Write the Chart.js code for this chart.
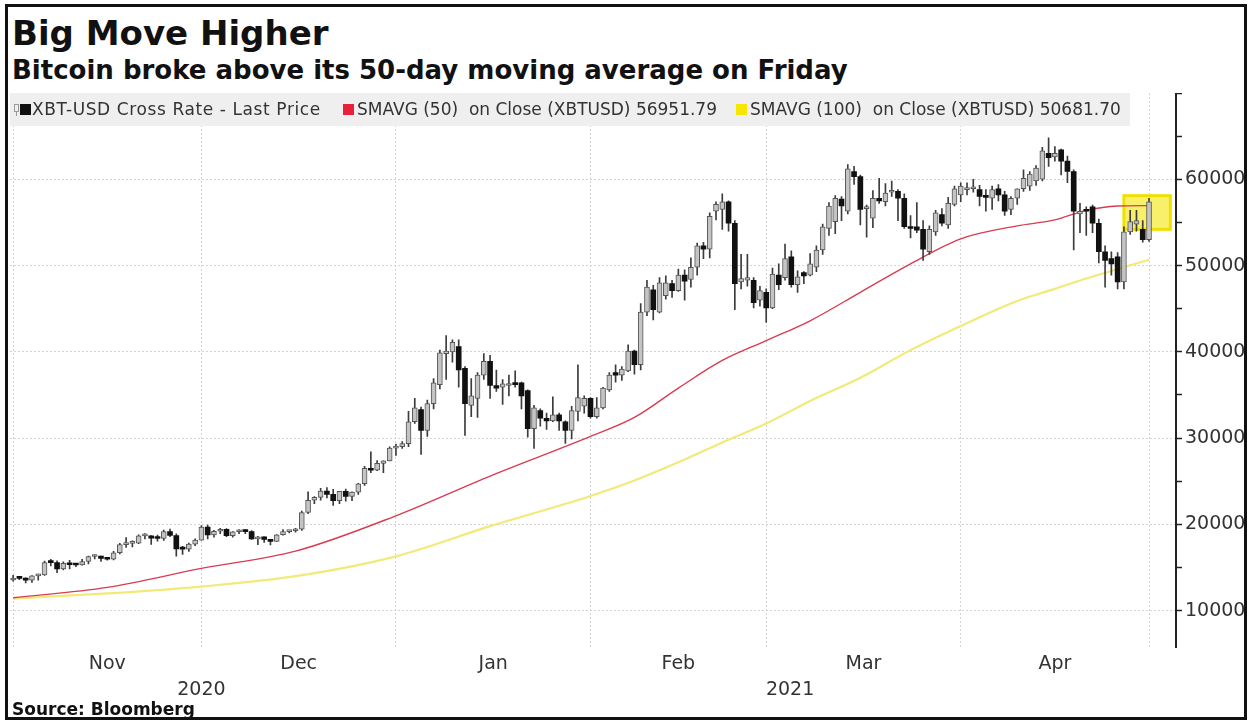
<!DOCTYPE html>
<html>
<head>
<meta charset="utf-8">
<title>Big Move Higher</title>
<script src="https://cdn.jsdelivr.net/npm/chart.js"></script>
<style>
  body {
    margin: 0;
    width: 1250px;
    height: 723px;
    position: relative;
    overflow: hidden;
    background: #fff;
    font-family: "DejaVu Sans", sans-serif;
    color: #111;
  }
  #frame {
    position: absolute;
    left: 5px;
    top: 4px;
    width: 1242px;
    height: 716px;
    box-sizing: border-box;
    border: 3px solid #111;
    z-index: 3;
  }
  h1, h2 {
    position: absolute;
    left: 12px;
    margin: 0;
    font-weight: bold;
    line-height: 1;
    white-space: nowrap;
  }
  h1 { top: 16px; font-size: 34px; }
  h2 { top: 57px; font-size: 26px; }
  #legend {
    position: absolute;
    left: 10px;
    top: 93px;
    width: 1120px;
    height: 33px;
    background: #efefef;
    font-size: 17px;
    color: #333;
    white-space: pre;
    z-index: 2;
  }
  #legend span {
    position: absolute;
    top: 7px;
    line-height: 19px;
  }
  #legend .sq {
    top: 11px;
    width: 11px;
    height: 11px;
  }
  #legend .candle {
    top: 11px;
    width: 3px;
    height: 6px;
    border: 1px solid #999;
  }
  #legend .candle::after {
    content: "";
    position: absolute;
    left: 1px;
    top: 7px;
    width: 1px;
    height: 4px;
    background: #999;
  }
  #wrap {
    position: absolute;
    left: 10px;
    top: 93px;
    width: 1236px;
    height: 620px;
  }
  #source {
    position: absolute;
    left: 12px;
    top: 701px;
    font-size: 17px;
    font-weight: bold;
    line-height: 1;
    z-index: 2;
  }
</style>
</head>
<body>
<div id="frame"></div>
<h1>Big Move Higher</h1>
<h2>Bitcoin broke above its 50-day moving average on Friday</h2>
<div id="legend">
  <span class="candle" style="left:4px"></span>
  <span class="sq" style="left:10px;background:#111"></span>
  <span style="left:22px;letter-spacing:0.6px">XBT-USD Cross Rate - Last Price</span>
  <span class="sq" style="left:333px;background:#e8203c"></span>
  <span id="lg50" style="left:347px"></span>
  <span class="sq" style="left:726px;background:#f6e600"></span>
  <span id="lg100" style="left:740px"></span>
</div>
<div id="wrap"><canvas id="chart"></canvas></div>
<div id="source">Source: Bloomberg</div>

<script>
  // Daily XBT-USD candles, day 0 = 31 Oct 2020 ... day 181 = 30 Apr 2021
  const opens = [
    13560,
    13780, 13740, 13550, 14030, 14150, 15590, 15580, 14830, 15480, 15330,
    15300, 15700, 16280, 16320, 16070, 15960, 16720, 17650, 17800, 17820,
    18680, 18690, 18420, 18370, 19160, 18720, 17150, 17140, 17720, 18180,
    19700, 18790, 19210, 19440, 18690, 19150, 19360, 19170, 18320, 18550,
    18250, 18040, 18800, 19170, 19270, 19440, 21380, 22800, 23130, 23870,
    23480, 22750, 23830, 23240, 23740, 24710, 26490, 26280, 27080, 27360, 28840,
    29000, 29370, 31900, 33300, 30900, 34000, 36200, 39800, 40000, 40600,
    38100, 33800, 34600, 37300, 38900, 36100, 35900, 36100, 36300, 36400,
    35500, 31100, 33200, 32300, 32000, 32700, 31900, 30900, 33100, 33700, 34600,
    32500, 33500, 35600, 37600, 37300, 37800, 40100, 38500, 44600, 47200,
    44600, 46500, 47900, 47100, 48900, 48400, 49800, 52300, 51900, 56300,
    56500, 57400, 54900, 48100, 48300, 48300, 46000, 46900,
    45100, 48900, 48600, 51000, 47800, 49200, 48900, 49800, 51800, 54300,
    55100, 57700, 56300, 60900, 60300, 56600, 55500, 57800, 57400, 58500,
    58600, 57800, 54500, 54500, 54200, 51600, 53900, 55900, 54700, 57100, 58200,
    58800, 58900, 58800, 58000, 57800, 58900, 58200, 56500, 57800, 58900,
    59200, 59800, 60000, 63000, 62600, 63400, 62100, 60900, 56000, 56500,
    56800, 54900, 51600, 50800, 51000, 48100, 53900, 54800, 54200, 53000
  ];
  const highs = [
    14100,
    13900, 13820, 14070, 14250, 15750, 15960, 15770, 15650, 15840, 15460,
    15950, 16330, 16480, 16320, 16140, 16870, 17820, 18470, 18100, 18800,
    18940, 18700, 18750, 19350, 19460, 18920, 17450, 17850, 18330, 19860,
    19920, 19310, 19560, 19530, 19170, 19410, 19400, 19280, 18620, 18560,
    18270, 18830, 19390, 19320, 19550, 21560, 23770, 23240, 24170, 24260,
    24060, 23840, 24100, 23790, 24770, 26720, 28400, 27390, 27370, 28990, 29300,
    29600, 33100, 34600, 33600, 34400, 36900, 40200, 41900, 41400, 41400,
    38300, 36900, 37600, 39800, 39600, 37900, 36800, 37300, 37800, 36500,
    35600, 33800, 33400, 32900, 34800, 32900, 32000, 33700, 38500, 34900, 34700,
    34700, 35900, 37600, 38500, 38300, 40800, 40200, 45600, 48300, 47700,
    48600, 48800, 48300, 49600, 49500, 50900, 52600, 52700, 56100, 57400,
    58300, 57500, 55200, 51300, 51300, 48600, 47600, 47300,
    49700, 50200, 52500, 51700, 49400, 49300, 51400, 52300, 54800, 57300,
    58100, 58000, 61700, 61500, 60500, 57000, 58700, 60100, 59500, 59800,
    58800, 58300, 55800, 57300, 55200, 54600, 56400, 56600, 57900, 59200, 59600,
    59600, 60000, 59300, 58800, 59200, 59400, 58600, 58000, 58900, 61100,
    60900, 61600, 63700, 64800, 63800, 63500, 62700, 61100, 57200, 56800,
    57000, 55400, 52300, 51600, 51500, 54500, 56400, 56400, 55200, 57800
  ];
  const lows = [
    13430,
    13600, 13220, 13290, 13530, 14090, 15190, 14420, 14720, 14850, 15090,
    15280, 15430, 15990, 15710, 15860, 15880, 16570, 17330, 17380, 17760,
    18330, 17680, 18060, 18140, 18570, 16330, 16510, 16880, 17540, 18180,
    18330, 18520, 18930, 18590, 18510, 18920, 18940, 18270, 17650, 17910,
    17610, 18030, 18750, 19000, 19090, 19300, 21240, 22390, 22800, 23080,
    22190, 22400, 22700, 22740, 23470, 24520, 25990, 26230, 25990, 27350, 28000,
    28800, 29000, 31700, 28100, 30200, 33400, 35700, 36800, 38800, 35900,
    30300, 32500, 32400, 36800, 34600, 35400, 33900, 34900, 35900, 33400,
    30100, 28800, 31400, 31000, 31900, 30900, 29400, 29900, 32000, 32900, 32300,
    32300, 33400, 35400, 36500, 36700, 37700, 37400, 37900, 44200, 43700,
    44500, 46100, 46300, 47000, 46000, 47500, 48900, 50800, 50900, 55300,
    54200, 54000, 44900, 47300, 47600, 45100, 45300, 43400,
    45000, 47200, 48300, 47500, 46900, 47900, 48800, 49300, 51300, 53500,
    53700, 55200, 56000, 59400, 54700, 53300, 54400, 57200, 56900, 58000,
    55200, 54300, 53200, 53800, 50600, 51300, 53500, 54600, 54300, 56900, 57400,
    58200, 58500, 56900, 56300, 56500, 57500, 55800, 55900, 57100, 58600,
    58700, 59300, 59800, 61500, 62100, 60500, 59600, 51800, 53800, 53500,
    53800, 50300, 47500, 48900, 47300, 47300, 53600, 54000, 52700, 52800
  ];
  const closes = [
    13780,
    13740, 13550, 14030, 14150, 15590, 15580, 14830, 15480, 15330, 15300,
    15700, 16280, 16320, 16070, 15960, 16720, 17650, 17800, 17820, 18680,
    18690, 18420, 18370, 19160, 18720, 17150, 17140, 17720, 18180, 19700,
    18790, 19210, 19440, 18690, 19150, 19360, 19170, 18320, 18550, 18250,
    18040, 18800, 19170, 19270, 19440, 21380, 22800, 23130, 23870, 23480,
    22750, 23830, 23240, 23740, 24710, 26490, 26280, 27080, 27360, 28840, 29000,
    29370, 31900, 33500, 30900, 34000, 36400, 39900, 40100, 41100, 37900,
    34000, 34900, 37300, 38900, 36100, 35800, 36300, 36300, 36200, 34900,
    31100, 33500, 32300, 32000, 32700, 32000, 30900, 33200, 34700, 34600, 32500,
    33500, 35800, 37300, 37300, 38000, 40100, 38500, 44600, 47500, 44900,
    48000, 48000, 47100, 48900, 48200, 49800, 52300, 51900, 55700, 57100,
    57400, 54900, 47900, 48500, 48600, 45700, 47100, 45100,
    49000, 47800, 50800, 47800, 48700, 48800, 50200, 51800, 54500, 56900,
    57800, 56900, 61200, 60300, 56500, 56800, 57800, 57500, 58400, 58600,
    57800, 54500, 54300, 54100, 51900, 54200, 56100, 54900, 57200, 58900, 59200,
    58900, 59000, 58000, 57900, 58800, 58200, 56300, 57800, 58900, 60100,
    60600, 61300, 63300, 62500, 63000, 62100, 60900, 56300, 56300, 56300,
    54900, 51600, 50600, 50200, 48100, 53900, 55100, 55200, 53000, 57400
  ];

  // Moving averages, sampled along the same day index
  const smaDays = [0, 15, 30, 45, 61, 76, 92, 99, 106, 113, 120, 127, 135, 143, 151, 160, 166, 171, 176, 181];
  const sma50 = [11500, 12700, 14900, 16900, 21000, 25600, 30200, 32400, 35800, 39000,
                 41300, 43600, 46900, 50200, 53100, 54600, 55300, 56400, 56900, 56951.79];
  const sma100 = [11400, 12000, 12800, 14000, 16300, 19800, 23300, 25100, 27200, 29500,
                  31700, 34300, 37000, 40200, 43000, 45900, 47300, 48500, 49600, 50681.70];

  // Axis ticks
  const monthEdges = [0, 30, 61, 92, 120, 151, 181];
  const monthCenters = [15, 45.5, 76.5, 106, 135.5, 166];
  const monthNames = ['Nov', 'Dec', 'Jan', 'Feb', 'Mar', 'Apr'];
  const yearCenters = [30, 123.8];
  const yearNames = ['2020', '2021'];
  const priceTicks = [10000, 15000, 20000, 25000, 30000, 35000, 40000, 45000, 50000, 55000, 60000, 65000, 70000];

  // Highlighted last week (day range, price range)
  const highlightDays = [177, 184.4];
  const highlightPrices = [54200, 58100];

  const dayMin = -0.5, dayMax = 185.3;

  document.getElementById('lg50').textContent =
    'SMAVG (50)  on Close (XBTUSD) ' + sma50[sma50.length - 1].toFixed(2);
  document.getElementById('lg100').textContent =
    'SMAVG (100)  on Close (XBTUSD) ' + sma100[sma100.length - 1].toFixed(2);

  const days = opens.map((_, i) => i);
  const wickData = days.map(i => ({ x: i, y: [lows[i], highs[i]] }));
  const upData = days.filter(i => closes[i] >= opens[i]).map(i => ({ x: i, y: [opens[i], closes[i]] }));
  const downData = days.filter(i => closes[i] < opens[i]).map(i => ({ x: i, y: [closes[i], opens[i]] }));

  const highlightPlugin = {
    id: 'highlight',
    beforeDatasetsDraw(chart) {
      const { ctx, scales } = chart;
      const x0 = scales.x.getPixelForValue(highlightDays[0]);
      const x1 = scales.x.getPixelForValue(highlightDays[1]);
      const y0 = scales.y.getPixelForValue(highlightPrices[1]);
      const y1 = scales.y.getPixelForValue(highlightPrices[0]);
      ctx.save();
      ctx.fillStyle = 'rgba(247, 237, 80, 0.85)';
      ctx.fillRect(x0, y0, x1 - x0, y1 - y0);
      ctx.strokeStyle = '#efe000';
      ctx.lineWidth = 3;
      ctx.strokeRect(x0, y0, x1 - x0, y1 - y0);
      ctx.restore();
    }
  };

  Chart.defaults.font.family = '"DejaVu Sans", sans-serif';
  Chart.defaults.color = '#333';

  const labelAxis = (centers, names, weight, pad, lh) => ({
    type: 'linear',
    position: 'bottom',
    min: dayMin,
    max: dayMax,
    weight: weight,
    offset: false,
    grid: { display: false, drawTicks: false },
    border: { display: false },
    afterBuildTicks: axis => { axis.ticks = centers.map(v => ({ value: v })); },
    ticks: {
      padding: pad,
      autoSkip: false,
      maxRotation: 0,
      font: { size: 19, lineHeight: lh },
      color: '#333',
      callback: (v, i) => names[i]
    }
  });

  new Chart(document.getElementById('chart'), {
    type: 'bar',
    data: {
      datasets: [
        {
          type: 'line', label: 'SMAVG (50)', data: smaDays.map((d, i) => ({ x: d, y: sma50[i] })),
          borderColor: '#d83c52', borderWidth: 1.4, pointRadius: 0,
          cubicInterpolationMode: 'monotone', order: 5
        },
        {
          type: 'line', label: 'SMAVG (100)', data: smaDays.map((d, i) => ({ x: d, y: sma100[i] })),
          borderColor: '#f2ea78', borderWidth: 2.2, pointRadius: 0,
          cubicInterpolationMode: 'monotone', order: 6
        },
        {
          label: 'wick', data: wickData, backgroundColor: '#3c3c3c',
          barThickness: 1, grouped: false, order: 3
        },
        {
          label: 'up', data: upData, backgroundColor: '#c4c4c4', borderColor: '#555',
          borderWidth: 1, borderSkipped: false, barThickness: 5, minBarLength: 2,
          grouped: false, order: 2
        },
        {
          label: 'down', data: downData, backgroundColor: '#111', borderWidth: 0,
          barThickness: 5, minBarLength: 2, grouped: false, order: 1
        }
      ]
    },
    options: {
      responsive: true,
      maintainAspectRatio: false,
      animation: false,
      layout: { padding: { top: 0, left: 0, right: 0, bottom: 13 } },
      plugins: { legend: { display: false }, tooltip: { enabled: false } },
      scales: {
        x: {
          type: 'linear',
          position: 'bottom',
          min: dayMin,
          max: dayMax,
          weight: 0,
          offset: false,
          grid: { offset: false, color: '#d4d4d4', lineWidth: 1, drawTicks: false },
          border: { display: false, dash: [2, 2] },
          afterBuildTicks: axis => { axis.ticks = monthEdges.map(v => ({ value: v })); },
          ticks: { display: false }
        },
        x2: labelAxis(monthCenters, monthNames, 1, 9, 0.8),
        x3: labelAxis(yearCenters, yearNames, 2, 0, 1),
        y: {
          type: 'linear',
          position: 'right',
          min: 5700,
          max: 70000,
          afterBuildTicks: axis => { axis.ticks = priceTicks.map(v => ({ value: v })); },
          afterFit: scale => { scale.width = 70; scale.paddingTop = 0; scale.paddingBottom = 0; },
          grid: {
            color: c => (c.tick && c.tick.value % 10000 === 0 && c.tick.value < 70000) ? '#d4d4d4' : 'rgba(0,0,0,0)',
            tickColor: '#222',
            tickLength: 6,
            tickWidth: 1.5,
            lineWidth: 1
          },
          border: { display: true, color: '#222', width: 2, dash: [2, 2] },
          ticks: {
            padding: 3,
            font: { size: 19 },
            color: '#333',
            callback: v => (v % 10000 === 0 && v < 70000) ? String(v) : ''
          }
        }
      }
    },
    plugins: [highlightPlugin]
  });
</script>
</body>
</html>
